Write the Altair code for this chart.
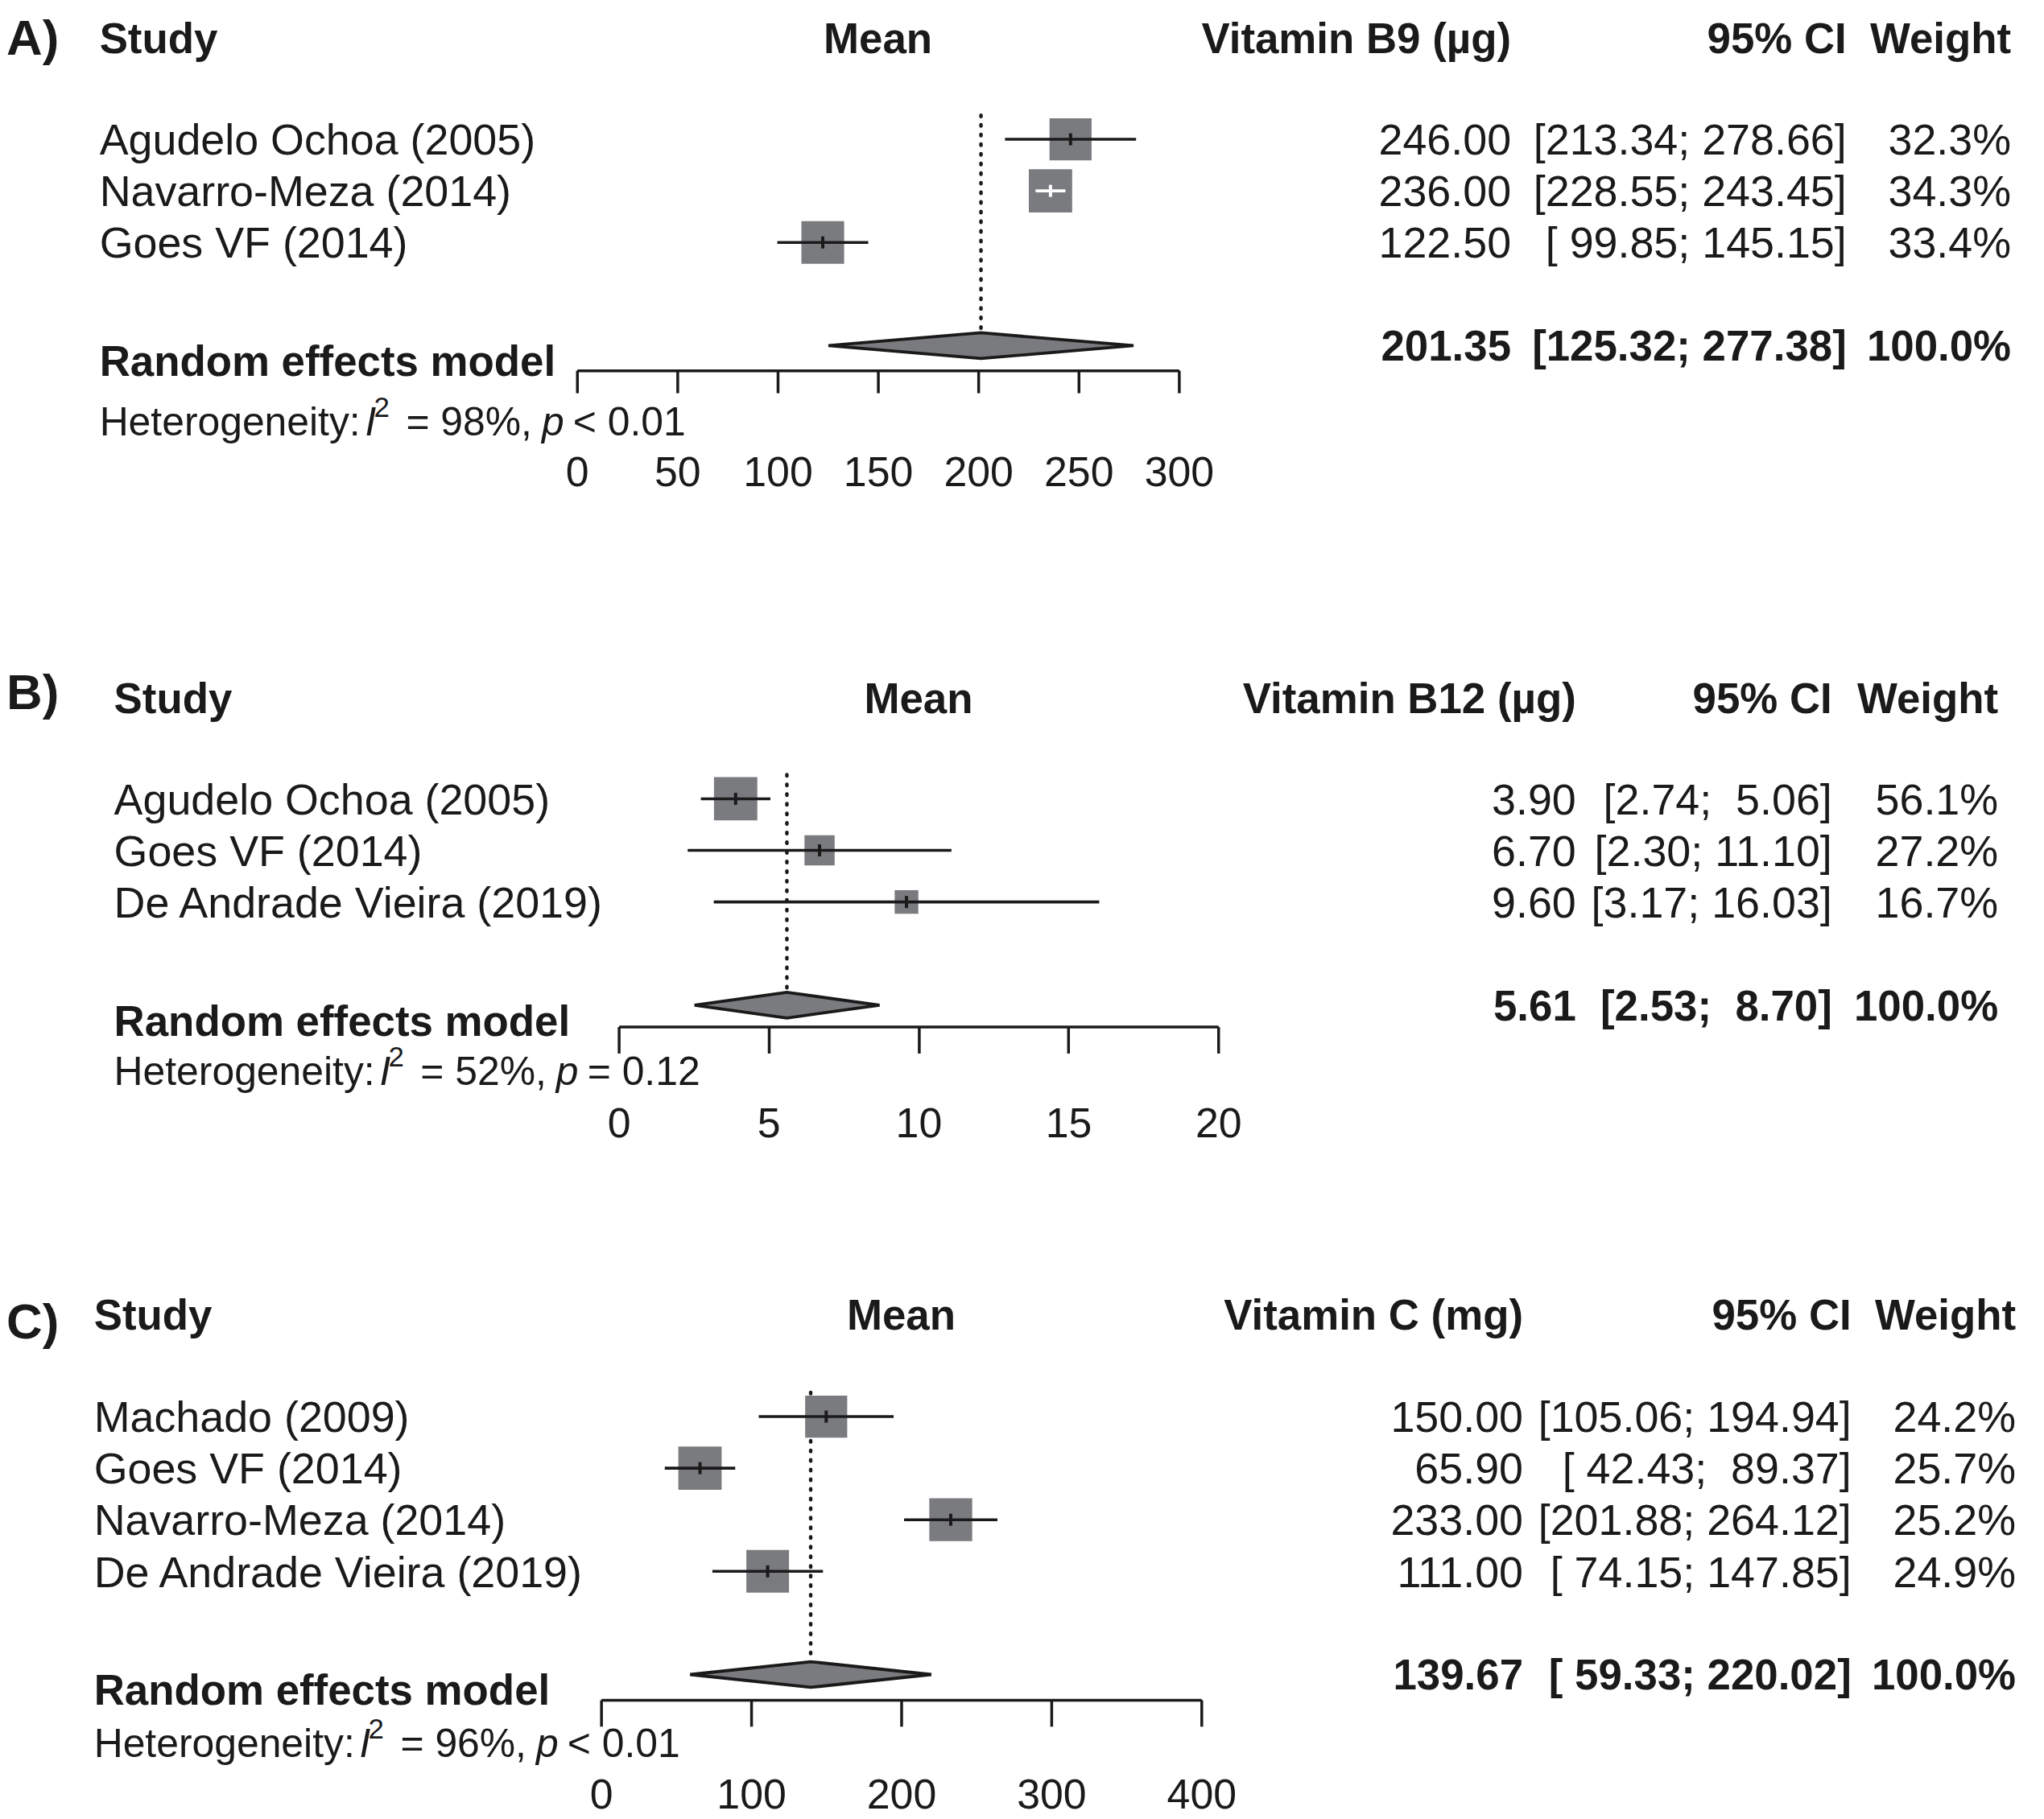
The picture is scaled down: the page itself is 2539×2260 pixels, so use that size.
import math
import altair as alt
import pandas as pd

# ---------------- data ----------------
a_title = "Vitamin B9 (µg)"
a_study = ["Agudelo Ochoa (2005)", "Navarro-Meza (2014)", "Goes VF (2014)"]
a_mean = [246.00, 236.00, 122.50]
a_lo = [213.34, 228.55, 99.85]
a_hi = [278.66, 243.45, 145.15]
a_weight = [32.3, 34.3, 33.4]
a_pooled = [201.35, 125.32, 277.38]
a_i2 = 98
a_p = "< 0.01"
a_ticks = [0, 50, 100, 150, 200, 250, 300]

b_title = "Vitamin B12 (µg)"
b_study = ["Agudelo Ochoa (2005)", "Goes VF (2014)", "De Andrade Vieira (2019)"]
b_mean = [3.90, 6.70, 9.60]
b_lo = [2.74, 2.30, 3.17]
b_hi = [5.06, 11.10, 16.03]
b_weight = [56.1, 27.2, 16.7]
b_pooled = [5.61, 2.53, 8.70]
b_i2 = 52
b_p = "= 0.12"
b_ticks = [0, 5, 10, 15, 20]

c_title = "Vitamin C (mg)"
c_study = ["Machado (2009)", "Goes VF (2014)", "Navarro-Meza (2014)", "De Andrade Vieira (2019)"]
c_mean = [150.00, 65.90, 233.00, 111.00]
c_lo = [105.06, 42.43, 201.88, 74.15]
c_hi = [194.94, 89.37, 264.12, 147.85]
c_weight = [24.2, 25.7, 25.2, 24.9]
c_pooled = [139.67, 59.33, 220.02]
c_i2 = 96
c_p = "< 0.01"
c_ticks = [0, 100, 200, 300, 400]

# ---------------- layout / style ----------------
FONT = "Liberation Sans"
INK = "#1a1a1a"
GRAY = "#7a7b7e"
NB = "\u00a0"
W, H = 2531, 2252          # chart size (page margin is 8px)
M = 8
ROW = 64.3                 # px per row
FS = 54                    # study rows / values font size
BFS = 53                   # bold header / pooled font size
HFS = 50                   # heterogeneity font size
SUP = 35                   # superscript size
LFS = 62                   # panel letter size
SQ = 54                    # side of largest square (px)
TICK_H = 7.5               # half height of the estimate tick (px)
DIA_H = 16                 # half height of diamond (px)
LAB_OFF = 19               # pooled label below diamond centre (px)
HET_OFF = [0, 331, 342, 382, 551, 590]  # x offsets of heterogeneity pieces

LAYOUT = [
    dict(letter="A)", letter_x=8, letter_y=42, y0=170, head_y=44, study_x=124, ax0=719, ax1=1469,
         axis_y=458, tick=28, labpad=75, het_y=521, xm=1883, xci=2301, xw=2506),
    dict(letter="B)", letter_x=8, letter_y=858, y0=992, head_y=866, study_x=142, ax0=771, ax1=1518,
         axis_y=1276, tick=33, labpad=63, het_y=1331, xm=1964, xci=2283, xw=2490),
    dict(letter="C)", letter_x=8, letter_y=1642, y0=1762, head_y=1635, study_x=117, ax0=749, ax1=1497,
         axis_y=2115, tick=33, labpad=61, het_y=2168, xm=1898, xci=2307, xw=2512),
]


def fmt_ci(lo, hi):
    los = [f"{v:.2f}" for v in lo]
    his = [f"{v:.2f}" for v in hi]
    wl = max(map(len, los))
    wh = max(map(len, his))
    return [f"[{a.rjust(wl, NB)}; {b.rjust(wh, NB)}]" for a, b in zip(los, his)]


def build_panel(title, study, mean, lo, hi, weight, pooled, i2, p, ticks, L):
    n = len(study)
    y0c = L["y0"] - M
    ys = alt.Scale(domain=[-10, 10], range=[y0c - 10 * ROW, y0c + 10 * ROW], zero=False, nice=False)
    xs = alt.Scale(domain=[ticks[0], ticks[-1]], range=[L["ax0"] - M, L["ax1"] - M], zero=False, nice=False)
    ax = alt.Axis(orient="bottom", offset=L["axis_y"] - M - H, values=ticks, tickSize=L["tick"],
                  tickWidth=3.5, tickColor=INK, domainColor=INK, domainWidth=3.5,
                  labelFontSize=52, labelFont=FONT, labelColor=INK, labelPadding=L["labpad"],
                  labelBaseline="top", grid=False, title=None, labelFlush=False, labelOverlap=False)

    def X(f):
        return alt.X(f, type="quantitative", scale=xs, axis=ax)

    def Y(f):
        return alt.Y(f, type="quantitative", scale=ys, axis=None)

    ppu = (L["ax1"] - L["ax0"]) / (ticks[-1] - ticks[0])
    wmax = max(weight)
    side = [SQ * math.sqrt(w / wmax) for w in weight]
    inside = [(h - l) * ppu < s for l, h, s in zip(lo, hi, side)]
    ci_all = fmt_ci(lo + [pooled[1]], hi + [pooled[2]])
    prow = n + 1
    rows = list(range(n))

    st = pd.DataFrame(dict(
        study=study, mean=mean, lo=lo, hi=hi, w=weight, row=rows,
        col=["white" if f else INK for f in inside],
        t0=[r - TICK_H / ROW for r in rows], t1=[r + TICK_H / ROW for r in rows],
        ms=[f"{m:.2f}" for m in mean], cis=ci_all[:n], ws=[f"{w:.1f}%" for w in weight],
    ))
    dia = pd.DataFrame(dict(
        x=[pooled[1], pooled[0], pooled[2]],
        yt=[prow, prow - DIA_H / ROW, prow],
        yb=[prow, prow + DIA_H / ROW, prow],
    ))
    ref = pd.DataFrame(dict(est=[pooled[0]], y1=[-30 / ROW], y2=[prow - DIA_H / ROW]))
    pool = pd.DataFrame(dict(
        row=[prow], lrow=[prow + LAB_OFF / ROW], label=["Random effects model"],
        ms=[f"{pooled[0]:.2f}"], cis=[ci_all[n]], ws=["100.0%"],
    ))
    head = pd.DataFrame(dict(
        row=[(L["head_y"] - L["y0"]) / ROW], lrow=[(L["letter_y"] - L["y0"]) / ROW],
        letter=[L["letter"]], study=["Study"], mean=["Mean"],
        title=[title], ci=["95% CI"], w=["Weight"],
    ))
    het = pd.DataFrame(dict(
        row=[(L["het_y"] - L["y0"]) / ROW],
        s1=["Heterogeneity:"], s2=["I"], s3=["2"], s4=[f"= {i2}%,"], s5=["p"], s6=[p],
    ))

    def txt(df, field, xpx, align="left", size=FS, bold=False, italic=False, dy=None, yfield="row"):
        return alt.Chart(df).mark_text(
            align=align, baseline="alphabetic", font=FONT, fontSize=size,
            fontWeight="bold" if bold else "normal", fontStyle="italic" if italic else "normal",
            dy=round(0.358 * size, 1) if dy is None else dy, color=INK,
        ).encode(x=alt.value(xpx - M), y=Y(f"{yfield}"), text=alt.Text(f"{field}:N"))

    layers = [
        alt.Chart(ref).mark_rule(color=INK, strokeWidth=4.5, strokeDash=[1.5, 10.5], strokeCap="round")
        .encode(x=X("est"), y=Y("y1"), y2="y2"),
        alt.Chart(st).mark_square(filled=True, color=GRAY, opacity=1)
        .encode(x=X("mean"), y=Y("row"),
                size=alt.Size("w:Q", scale=alt.Scale(domain=[0, wmax], range=[0, SQ * SQ], zero=True), legend=None)),
        alt.Chart(st).mark_rule(strokeWidth=3.6)
        .encode(x=X("lo"), x2="hi", y=Y("row"), color=alt.Color("col:N", scale=None)),
        alt.Chart(st).mark_rule(strokeWidth=4)
        .encode(x=X("mean"), y=Y("t0"), y2="t1", color=alt.Color("col:N", scale=None)),
        alt.Chart(dia).mark_area(orient="vertical", fill=GRAY, stroke=INK, strokeWidth=3.8, opacity=1)
        .encode(x=X("x"), y=alt.Y("yt:Q", scale=ys, axis=None, stack=False), y2="yb"),
        # study rows
        txt(st, "study", L["study_x"]),
        txt(st, "ms", L["xm"], align="right"),
        txt(st, "cis", L["xci"], align="right"),
        txt(st, "ws", L["xw"], align="right"),
        # pooled row
        txt(pool, "label", L["study_x"], size=BFS, bold=True, yfield="lrow"),
        txt(pool, "ms", L["xm"], align="right", size=BFS, bold=True),
        txt(pool, "cis", L["xci"], align="right", size=BFS, bold=True),
        txt(pool, "ws", L["xw"], align="right", size=BFS, bold=True),
        # header
        txt(head, "letter", L["letter_x"], size=LFS, bold=True, yfield="lrow"),
        txt(head, "study", L["study_x"], size=BFS, bold=True),
        txt(head, "mean", (L["ax0"] + L["ax1"]) / 2, align="center", size=BFS, bold=True),
        txt(head, "title", L["xm"], align="right", size=BFS, bold=True),
        txt(head, "ci", L["xci"], align="right", size=BFS, bold=True),
        txt(head, "w", L["xw"], align="right", size=BFS, bold=True),
        # heterogeneity
        txt(het, "s1", L["study_x"] + HET_OFF[0], size=HFS),
        txt(het, "s2", L["study_x"] + HET_OFF[1], size=HFS, italic=True),
        txt(het, "s3", L["study_x"] + HET_OFF[2], size=SUP, dy=round(0.358 * HFS - 23, 1)),
        txt(het, "s4", L["study_x"] + HET_OFF[3], size=HFS),
        txt(het, "s5", L["study_x"] + HET_OFF[4], size=HFS, italic=True),
        txt(het, "s6", L["study_x"] + HET_OFF[5], size=HFS),
    ]
    return alt.layer(*layers)


pA = build_panel(a_title, a_study, a_mean, a_lo, a_hi, a_weight, a_pooled, a_i2, a_p, a_ticks, LAYOUT[0])
pB = build_panel(b_title, b_study, b_mean, b_lo, b_hi, b_weight, b_pooled, b_i2, b_p, b_ticks, LAYOUT[1])
pC = build_panel(c_title, c_study, c_mean, c_lo, c_hi, c_weight, c_pooled, c_i2, c_p, c_ticks, LAYOUT[2])

chart = (
    alt.layer(pA, pB, pC)
    .resolve_scale(x="independent", y="independent", size="independent")
    .resolve_axis(x="independent")
    .properties(width=W, height=H, autosize=alt.AutoSizeParams(type="none"), padding=0, background="white")
    .configure_view(strokeWidth=0)
)

chart.save("out.html", embed_options={"renderer": "svg", "actions": False})
